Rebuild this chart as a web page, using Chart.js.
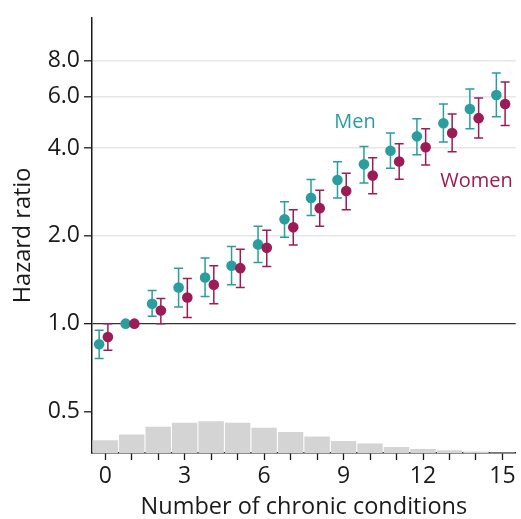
<!DOCTYPE html>
<html>
<head>
<meta charset="utf-8">
<script src="https://cdn.jsdelivr.net/npm/chart.js@4.4.1/dist/chart.umd.min.js"></script>
<style>
  html, body { margin: 0; padding: 0; background: #fff; }
</style>
</head>
<body>
<canvas id="hrChart" width="521" height="519"></canvas>
<script>
// Number of chronic conditions (x categories)
const conditions = [0, 1, 2, 3, 4, 5, 6, 7, 8, 9, 10, 11, 12, 13, 14, 15];

// Hazard ratios with 95% CI, reference group = 1 condition
const menHR    = [0.85, 1.00, 1.17, 1.33, 1.44, 1.58, 1.87, 2.28, 2.70, 3.11, 3.52, 3.92, 4.39, 4.87, 5.45, 6.09];
const menLow   = [0.76, null, 1.06, 1.14, 1.24, 1.36, 1.62, 1.98, 2.35, 2.70, 3.04, 3.41, 3.80, 4.20, 4.66, 5.13];
const menHigh  = [0.95, null, 1.30, 1.55, 1.68, 1.84, 2.16, 2.62, 3.12, 3.59, 4.05, 4.51, 5.05, 5.67, 6.38, 7.24];

const womenHR   = [0.90, 1.00, 1.11, 1.23, 1.36, 1.55, 1.82, 2.14, 2.49, 2.85, 3.22, 3.60, 4.03, 4.51, 5.07, 5.67];
const womenLow  = [0.81, null, 1.00, 1.05, 1.17, 1.33, 1.57, 1.86, 2.16, 2.46, 2.79, 3.13, 3.50, 3.89, 4.33, 4.78];
const womenHigh = [1.00, null, 1.22, 1.43, 1.58, 1.80, 2.09, 2.46, 2.87, 3.28, 3.71, 4.14, 4.66, 5.24, 5.94, 6.74];

// Share of people (%) by number of conditions, drawn as the grey histogram
const shareByCount = [5.1, 7.4, 10.6, 12.2, 12.8, 12.2, 10.2, 8.4, 6.6, 4.8, 3.8, 2.4, 1.6, 1.1, 0.6, 0.2];

// Axis ticks
const yTickValues = [0.5, 1, 2, 4, 6, 8];
const xTickValues = conditions;

// Colours
const menColor = '#2a9d9f';
const womenColor = '#9c1c55';
const inkColor = '#1a1a1a';

// dodge men left and women right of each count
const menShift = -0.23;
const womenShift = 0.10;

Chart.defaults.font.family = "'Open Sans', sans-serif";
Chart.defaults.color = inkColor;

function toPoints(values, shift) {
    return values.map((v, i) => ({ x: conditions[i] + shift, y: v }));
}

// Draws the confidence interval whiskers of each series
const errorBars = {
    id: 'errorBars',
    beforeDatasetsDraw(chart) {
        const ctx = chart.ctx;
        const xs = chart.scales.x;
        const ys = chart.scales.y;
        chart.data.datasets.forEach(ds => {
            if (!ds.low) return;
            ctx.save();
            ctx.strokeStyle = ds.backgroundColor;
            ctx.lineWidth = 1.5;
            ds.data.forEach((p, i) => {
                if (ds.low[i] == null) return;
                const px = xs.getPixelForValue(p.x);
                const top = ys.getPixelForValue(ds.high[i]);
                const bot = ys.getPixelForValue(ds.low[i]);
                ctx.beginPath();
                ctx.moveTo(px, top); ctx.lineTo(px, bot);
                ctx.moveTo(px - 4.5, top); ctx.lineTo(px + 4.5, top);
                ctx.moveTo(px - 4.5, bot); ctx.lineTo(px + 4.5, bot);
                ctx.stroke();
            });
            ctx.restore();
        });
    }
};

// Direct labels next to the series instead of a legend
const seriesLabels = {
    id: 'seriesLabels',
    afterDatasetsDraw(chart) {
        const ctx = chart.ctx;
        const xs = chart.scales.x;
        const ys = chart.scales.y;
        const labels = [
            { text: 'Men', x: 9.43, y: 4.91, color: menColor },
            { text: 'Women', x: 14.02, y: 3.08, color: womenColor }
        ];
        ctx.save();
        ctx.font = "20px 'Open Sans', sans-serif";
        ctx.textAlign = 'center';
        ctx.textBaseline = 'middle';
        labels.forEach(l => {
            ctx.fillStyle = l.color;
            ctx.fillText(l.text, xs.getPixelForValue(l.x), ys.getPixelForValue(l.y));
        });
        ctx.restore();
    }
};

const ctx = document.getElementById('hrChart').getContext('2d');
const config = {
    type: 'scatter',
    data: {
        datasets: [
            {
                type: 'scatter',
                label: 'Women',
                data: toPoints(womenHR, womenShift),
                low: womenLow,
                high: womenHigh,
                backgroundColor: womenColor,
                borderWidth: 0,
                pointRadius: 5.3,
                order: 1
            },
            {
                type: 'scatter',
                label: 'Men',
                data: toPoints(menHR, menShift),
                low: menLow,
                high: menHigh,
                backgroundColor: menColor,
                borderWidth: 0,
                pointRadius: 5.3,
                order: 2
            },
            {
                type: 'bar',
                label: 'Share',
                data: shareByCount.map((v, i) => ({ x: conditions[i], y: v })),
                yAxisID: 'y2',
                backgroundColor: '#d4d4d4',
                barPercentage: 0.96,
                categoryPercentage: 1,
                order: 3
            }
        ]
    },
    options: {
        responsive: false,
        animation: false,
        layout: {
            padding: { top: 16, right: 4, left: 0, bottom: 0 }
        },
        plugins: {
            legend: { display: false },
            tooltip: { enabled: false }
        },
        scales: {
            x: {
                type: 'linear',
                min: -0.5,
                max: 15.5,
                offset: false,
                afterBuildTicks: s => { s.ticks = xTickValues.map(v => ({ value: v })); },
                afterFit: s => { s.height = 66; },
                ticks: {
                    callback: v => (v % 3 === 0 ? String(v) : ''),
                    autoSkip: false,
                    maxRotation: 0,
                    padding: 3,
                    color: inkColor,
                    font: { size: 23 }
                },
                grid: {
                    drawOnChartArea: false,
                    offset: false,
                    tickLength: 7,
                    tickColor: inkColor,
                    tickWidth: 1.3
                },
                border: { color: inkColor, width: 1.5 },
                title: {
                    display: true,
                    text: 'Number of chronic conditions',
                    color: inkColor,
                    font: { size: 23.5, lineHeight: 1 },
                    padding: { top: 0, bottom: 0 }
                }
            },
            y: {
                type: 'logarithmic',
                min: 0.36,
                max: 11.2,
                afterBuildTicks: s => { s.ticks = yTickValues.map(v => ({ value: v })); },
                afterFit: s => { s.width = 92; },
                ticks: {
                    callback: v => Number(v).toFixed(1),
                    padding: 4,
                    color: inkColor,
                    font: { size: 23 }
                },
                grid: {
                    color: c => {
                        const v = c.tick ? c.tick.value : 0;
                        if (v === 1) return '#333333';
                        if (v === 0.5) return 'rgba(0,0,0,0)';
                        return '#e6e6e6';
                    },
                    lineWidth: c => (c.tick && c.tick.value === 1 ? 1.3 : 1.6),
                    tickLength: 8,
                    tickColor: inkColor,
                    tickWidth: 1.3
                },
                border: { color: inkColor, width: 1.5 },
                title: {
                    display: true,
                    text: 'Hazard ratio',
                    color: inkColor,
                    font: { size: 23.5, lineHeight: 1 },
                    padding: { top: 12, bottom: 0 }
                }
            },
            y2: {
                type: 'linear',
                display: false,
                min: 0,
                max: 175
            }
        }
    },
    plugins: [errorBars, seriesLabels]
};

const hrChart = new Chart(ctx, config);
</script>
</body>
</html>
